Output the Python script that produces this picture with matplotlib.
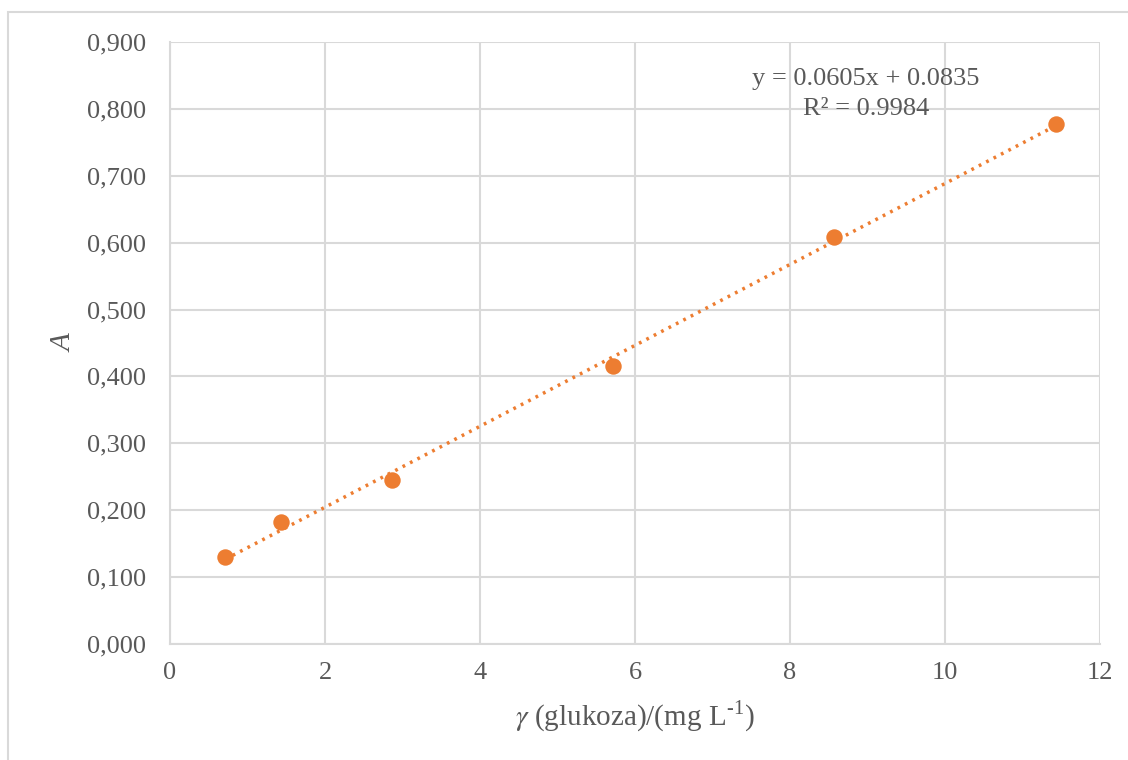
import matplotlib
matplotlib.use("Agg")
import numpy as np
import matplotlib.pyplot as plt
from matplotlib.patches import Rectangle
from matplotlib.ticker import FuncFormatter, MultipleLocator

# data
konc = [0.714, 1.43, 2.86, 5.71, 8.57, 11.43]
absorbancija = [0.130, 0.182, 0.245, 0.416, 0.608, 0.778]
jednadzba = "y = 0.0605x + 0.0835"
r2_tekst = "R² = 0.9984"

plt.rcParams["font.family"] = ["Liberation Serif", "DejaVu Serif"]
plt.rcParams["mathtext.fontset"] = "stix"

siva = "#595959"
narancasta = "#ED7D31"
mreza = "#D9D9D9"

fig = plt.figure(figsize=(11.28, 7.6), dpi=100)
ax = fig.add_axes([170 / 1128, 1 - 644 / 760, 930 / 1128, 602 / 760])

# border around the chart area like in Excel
fig.patches.append(Rectangle((8 / 1128, -0.01), 1.2, 1 - 12 / 760 + 0.01,
                             transform=fig.transFigure, fill=False,
                             edgecolor="#D9D9D9", linewidth=1.5))

ax.scatter(konc, absorbancija, s=140, color=narancasta, zorder=3, linewidths=0)

k, n = np.polyfit(konc, absorbancija, 1)
xt = np.array([min(konc), max(konc)])
ax.plot(xt, k * xt + n, color=narancasta, linestyle=(0, (0.8, 1.6)),
        linewidth=2.5, zorder=2)

ax.set_xlim(0, 12)
ax.set_ylim(0, 0.9)
ax.xaxis.set_major_locator(MultipleLocator(2))
ax.yaxis.set_major_locator(MultipleLocator(0.1))
ax.yaxis.set_major_formatter(FuncFormatter(lambda v, p: f"{v:.3f}".replace(".", ",")))
ax.grid(True, color=mreza, linewidth=1.5)
ax.set_axisbelow(True)
for s in ["top", "right"]:
    ax.spines[s].set_visible(False)
ax.spines["left"].set_color(mreza)
ax.spines["bottom"].set_color(mreza)
ax.spines["left"].set_linewidth(1.5)
ax.spines["bottom"].set_linewidth(1.5)
ax.tick_params(length=0, labelsize=19, labelcolor=siva)
ax.tick_params(axis="y", pad=17)
ax.tick_params(axis="x", pad=13)

ax.set_xlabel("$\\gamma$ (glukoza)/(mg L$^{\\mathregular{\u20101}}$)", fontsize=21,
              color=siva, labelpad=11)
ax.set_ylabel("A", fontsize=21, color=siva, style="italic", labelpad=7)

ax.text(866, 760 - 79, jednadzba, transform=None, fontsize=19, color=siva,
        ha="center", va="center")
ax.text(866, 760 - 109, r2_tekst, transform=None, fontsize=19, color=siva,
        ha="center", va="center")

fig.savefig("out.png", dpi=100)
